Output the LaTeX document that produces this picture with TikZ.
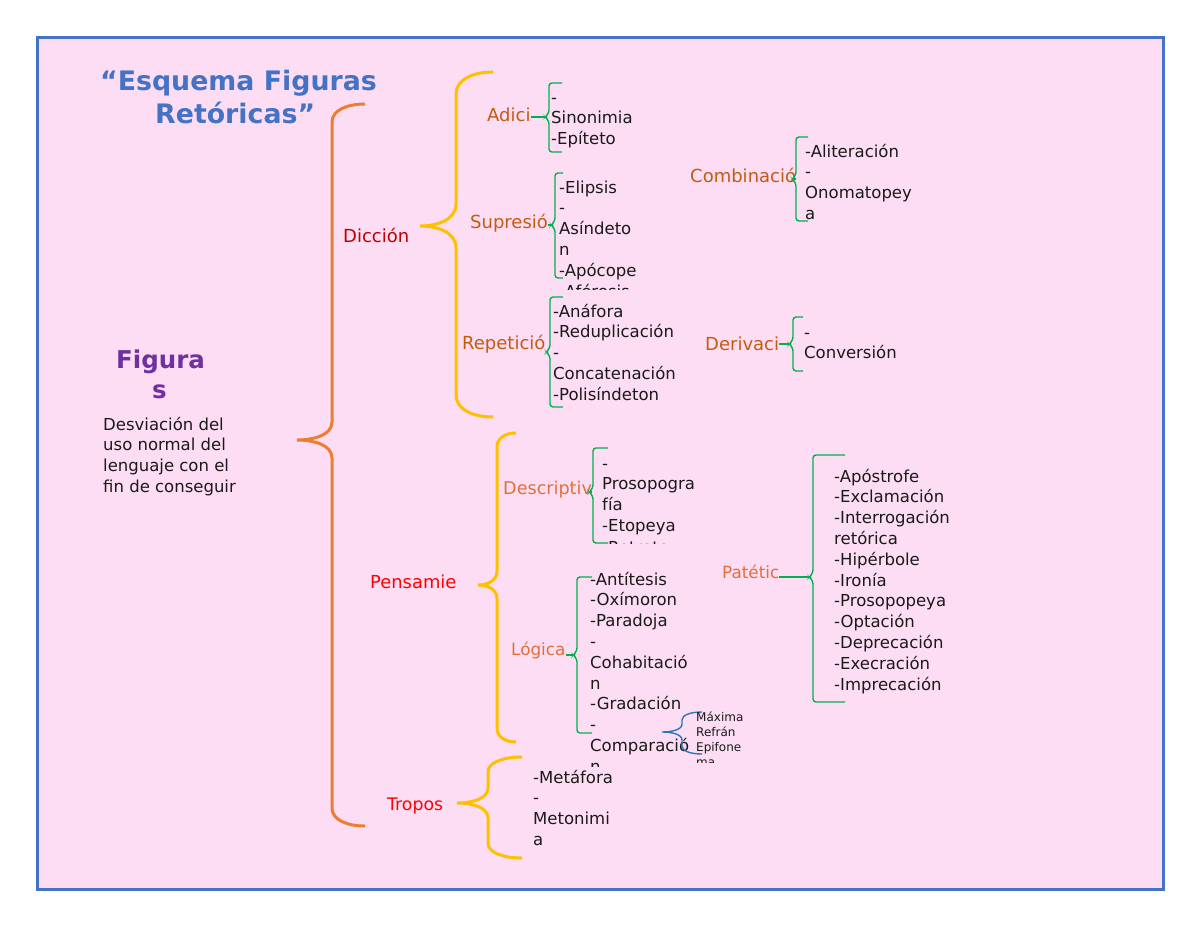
\documentclass[tikz,border=0pt]{standalone}
\usepackage{fontspec}
\setmainfont{DejaVu Sans}
\usetikzlibrary{calc}
\definecolor{bg}{HTML}{FDDDF3}
\definecolor{frameblue}{HTML}{4472C4}
\definecolor{titleblue}{HTML}{4472C4}
\definecolor{purp}{HTML}{7030A0}
\definecolor{darkred}{HTML}{C00000}
\definecolor{brightred}{HTML}{FF0000}
\definecolor{lblor}{HTML}{C55A11}
\definecolor{lblortwo}{HTML}{E0703A}
\definecolor{brorange}{HTML}{ED7D31}
\definecolor{bryellow}{HTML}{FFC000}
\definecolor{brgreen}{HTML}{00B050}
\definecolor{brblue}{HTML}{2E75B6}
\definecolor{ink}{HTML}{1A1A1A}
\tikzset{
 txt/.style={inner sep=0pt, anchor=base west, text=ink, font=\fontsize{16.5}{20.8}\selectfont},
 smalltxt/.style={inner sep=0pt, anchor=base west, text=ink, font=\fontsize{12}{15}\selectfont},
 lbl/.style={inner sep=0pt, anchor=base west, text=lblor, font=\fontsize{18}{22}\selectfont},
 lbltwo/.style={inner sep=0pt, anchor=base west, text=lblortwo, font=\fontsize{16.8}{20}\selectfont},
 catlbl/.style={inner sep=0pt, anchor=base west, font=\fontsize{18}{22}\selectfont},
 gline/.style={draw=brgreen, line width=1.4pt},
 ybr/.style={draw=bryellow, line width=3pt},
 obr/.style={draw=brorange, line width=3pt},
 bbr/.style={draw=brblue, line width=1.4pt},
}
% name, style, x, first baseline, spacing, list
\newcommand\txtlines[6]{\foreach \myline [count=\i from 0] in {#6} {\node[#2] (#1\i) at (#3,{#4+\i*#5}) {\myline};}}
% style, x, ytop, ytip, ybot, xend, xtip, r
\newcommand\mybrace[8]{\draw[#1] (#6,#3) .. controls ({#2+0.45*(#6-#2)},#3) and (#2,{#3+0.35*#8}) .. (#2,{#3+#8})
   -- (#2,{#4-#8}) .. controls (#2,{#4-0.25*#8}) and ({#7+0.45*(#2-#7)},#4) .. (#7,#4)
   .. controls ({#7+0.45*(#2-#7)},#4) and (#2,{#4+0.25*#8}) .. (#2,{#4+#8})
   -- (#2,{#5-#8}) .. controls (#2,{#5-0.35*#8}) and ({#2+0.45*(#6-#2)},#5) .. (#6,#5);}
% name of tip, x, ytop, ymid, ybot, xend
\newcommand\gbracket[6]{\draw[gline, rounded corners=3pt] (#6,#3) -- (#2,#3) -- (#2,{#4-4}) -- ({#2-4},#4) -- (#2,{#4+4}) -- (#2,#5) -- (#6,#5);
  \coordinate (#1) at ({#2-4},#4);}
\begin{document}
\begin{tikzpicture}[x=1pt,y=-1pt]
\useasboundingbox (0,0) rectangle (1200,927);
\fill[white] (0,0) rectangle (1200,927);
\fill[bg] (37,37) rectangle (1163,889);
\draw[frameblue, line width=3pt] (37,37) rectangle (1163,889);

% title
\node[inner sep=0pt, anchor=base west, text=titleblue, font=\bfseries\fontsize{26.8}{33}\selectfont] (title1) at (100,90) {“Esquema Figuras};
\node[inner sep=0pt, anchor=base west, text=titleblue, font=\bfseries\fontsize{26.8}{33}\selectfont] (title2) at (155,123) {Retóricas”};

% Figuras
\node[inner sep=0pt, anchor=base west, text=purp, font=\bfseries\fontsize{24.5}{30}\selectfont] (fig1) at (116,368) {Figura};
\node[inner sep=0pt, anchor=base west, text=purp, font=\bfseries\fontsize{24.5}{30}\selectfont] (fig2) at (152,398) {s};
\txtlines{desc}{txt}{103}{430}{20.8}{Desviación del,uso normal del,lenguaje con el,fin de conseguir}

% big orange brace
\mybrace{obr}{332}{104}{440}{826}{365}{297}{18}

% categories
\node[catlbl, text=darkred] (diccion) at (343,242) {Dicción};
\node[catlbl, text=brightred, font=\fontsize{17.9}{22}\selectfont] (pensamiento) at (370,588) {Pensamie};
\node[catlbl, text=brightred, font=\fontsize{17.3}{22}\selectfont] (tropos) at (387,810) {Tropos};

% yellow braces
\mybrace{ybr}{456}{72}{226}{417}{493}{420}{22}
\mybrace{ybr}{497}{433}{585}{742}{516}{478}{14}
\mybrace{ybr}{488}{757}{803}{858}{522}{457}{15}

% Diccion subgroups
\node[lbl] (adici) at (487,121) {Adici};
\gbracket{adicitip}{549}{83}{117}{152}{562}
\draw[gline] (adici.east |- adicitip) -- (adicitip);
\txtlines{adi}{txt}{551}{103}{20.8}{-,Sinonimia,-Epíteto}

\node[lbl] (supresion) at (470,228) {Supresió};
\gbracket{suptip}{555}{173}{225}{278}{563}
\draw[gline] (supresion.east |- suptip) -- (suptip);
\txtlines{sup}{txt}{559}{193}{20.8}{-Elipsis,-,Asíndeto,n,-Apócope}
\begin{scope}
\clip (540,280) rectangle (700,289.8);
\node[txt] (supclip) at (559,297.4) {-Aféresis};
\end{scope}

\node[lbl] (repeticion) at (462,349) {Repetició};
\gbracket{reptip}{550}{297}{352}{407}{563}
\draw[gline] (repeticion.east |- reptip) -- (reptip);
\txtlines{rep}{txt}{553}{317}{20.8}{-Anáfora,-Reduplicación,-,Concatenación,-Polisíndeton}

\node[lbl] (combinacion) at (690,182) {Combinació};
\gbracket{combtip}{796}{137}{179}{221}{808}
\draw[gline] (combinacion.east |- combtip) -- (combtip);
\txtlines{comb}{txt}{805}{157}{20.8}{-Aliteración,-,Onomatopey,a}

\node[lbl] (derivacion) at (705,350) {Derivaci};
\gbracket{dertip}{793}{317}{344}{371}{803}
\draw[gline] (derivacion.east |- dertip) -- (dertip);
\txtlines{der}{txt}{804}{338}{20.8}{-,Conversión}

% Pensamiento subgroups
\node[lbltwo, font=\fontsize{17.6}{20}\selectfont] (descriptiva) at (503,494) {Descriptiv};
\gbracket{desctip}{593}{448}{492}{543}{608}
\draw[gline] (descriptiva.east |- desctip) -- (desctip);
\txtlines{dsc}{txt}{602}{469}{20.8}{-,Prosopogra,fía,-Etopeya}
\begin{scope}
\clip (595,530) rectangle (700,543.5);
\node[txt] (dscclip) at (602,553.2) {-Retrato};
\end{scope}

\node[lbltwo] (logica) at (511,655) {Lógica};
\gbracket{logtip}{577}{577}{655}{733}{592}
\draw[gline] (logica.east |- logtip) -- (logtip);
\txtlines{log}{txt}{590}{585}{20.8}{-Antítesis,-Oxímoron,-Paradoja,-,Cohabitació,n,-Gradación,-,Comparació}
\begin{scope}
\clip (580,760) rectangle (700,766);
\node[txt, text height=6pt, text depth=0pt] (logclip) at (590,772.2) {n};
\end{scope}

\mybrace{bbr}{682}{712}{732}{754}{702}{662}{8}
\txtlines{comp}{smalltxt}{696}{721}{15}{Máxima,Refrán,Epifone}
\begin{scope}
\clip (690,755) rectangle (760,762);
\node[smalltxt] (compclip) at (696,766) {ma};
\end{scope}

\node[lbltwo] (patetica) at (722,578) {Patétic};
\gbracket{pattip}{813}{455}{577}{702}{845}
\draw[gline] (patetica.east |- pattip) -- (pattip);
\txtlines{pat}{txt}{834}{482}{20.8}{-Apóstrofe,-Exclamación,-Interrogación,retórica,-Hipérbole,-Ironía,-Prosopopeya,-Optación,-Deprecación,-Execración,-Imprecación}

% Tropos
\txtlines{tro}{txt}{533}{783}{20.8}{-Metáfora,-,Metonimi,a}
\end{tikzpicture}
\end{document}
